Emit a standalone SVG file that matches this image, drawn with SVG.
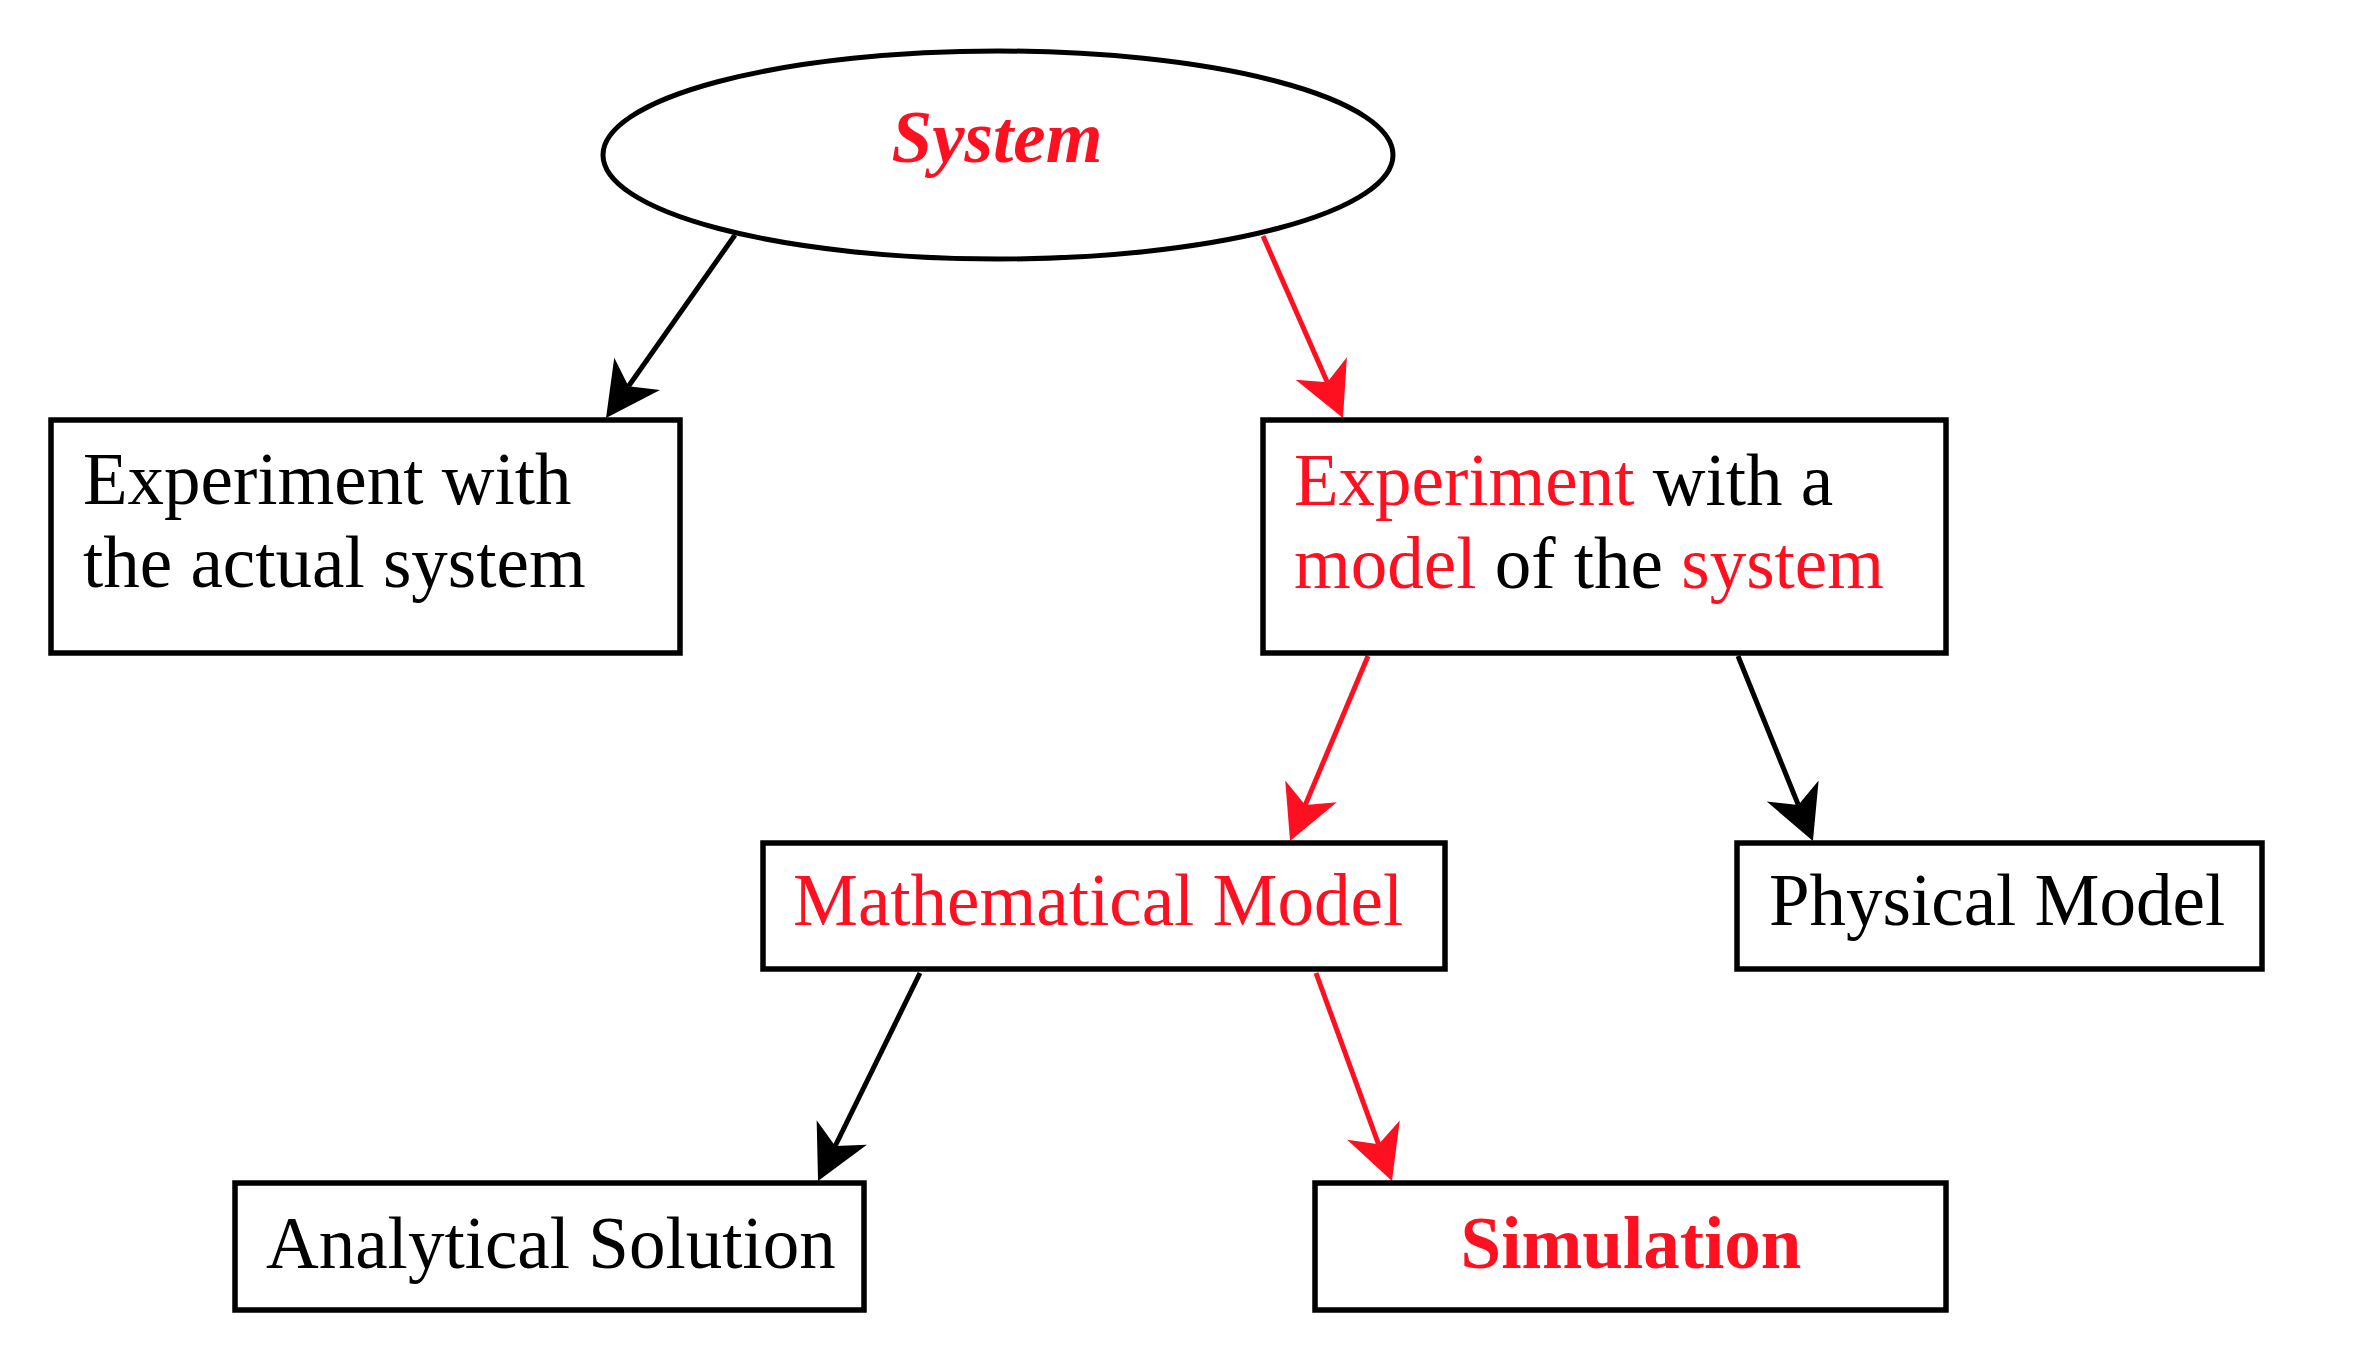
<svg xmlns="http://www.w3.org/2000/svg" width="2370" height="1368" viewBox="0 0 2370 1368">
<style>
.box{fill:#fff;stroke:#000;stroke-width:5.5}
.t{font-family:"Liberation Serif","Times New Roman",serif;font-size:73px;fill:#000}
.r{fill:#ff1020}
.ln{fill:none;stroke-width:5}
.k{stroke:#000}
.rl{stroke:#ff1020}
</style>
<defs>
<marker id="ak" markerUnits="userSpaceOnUse" markerWidth="54" markerHeight="56" refX="15" refY="28" orient="auto" overflow="visible">
<path d="M54 28 L0 0 L15 28 L0 56 Z" fill="#000"/>
</marker>
<marker id="ar" markerUnits="userSpaceOnUse" markerWidth="54" markerHeight="56" refX="15" refY="28" orient="auto" overflow="visible">
<path d="M54 28 L0 0 L15 28 L0 56 Z" fill="#ff1020"/>
</marker>
</defs>
<rect width="2370" height="1368" fill="#fff"/>
<g id="connectors">
<line class="ln k" x1="735" y1="235" x2="628.5" y2="386.2" marker-end="url(#ak)"/>
<line class="ln rl" x1="1263" y1="236" x2="1327.3" y2="382.3" marker-end="url(#ar)"/>
<line class="ln rl" x1="1368" y1="656" x2="1305.2" y2="805.1" marker-end="url(#ar)"/>
<line class="ln k" x1="1738" y1="656" x2="1798.3" y2="804.9" marker-end="url(#ak)"/>
<line class="ln k" x1="920" y1="973" x2="835.2" y2="1146" marker-end="url(#ak)"/>
<line class="ln rl" x1="1316" y1="973" x2="1378.6" y2="1144.3" marker-end="url(#ar)"/>
</g>
<g id="system">
<ellipse cx="998" cy="155" rx="395" ry="104" fill="#fff" stroke="#000" stroke-width="5"/>
<text class="t r" x="997" y="162" text-anchor="middle" font-size="75" font-weight="bold" font-style="italic">System</text>
</g>
<g id="actual">
<rect class="box" x="51" y="420" width="629" height="233"/>
<text class="t" x="83" y="504">Experiment with</text>
<text class="t" x="83" y="587">the actual system</text>
</g>
<g id="model">
<rect class="box" x="1263" y="420" width="683" height="233"/>
<text class="t" x="1294" y="505"><tspan class="r">Experiment</tspan> with a</text>
<text class="t" x="1294" y="588"><tspan class="r">model</tspan> of the <tspan class="r">system</tspan></text>
</g>
<g id="math">
<rect class="box" x="763" y="843" width="682" height="126"/>
<text class="t r" x="793" y="925">Mathematical Model</text>
</g>
<g id="physical">
<rect class="box" x="1737" y="843" width="525" height="126"/>
<text class="t" x="1769" y="925">Physical Model</text>
</g>
<g id="analytical">
<rect class="box" x="235" y="1183" width="629" height="127"/>
<text class="t" x="266" y="1268">Analytical Solution</text>
</g>
<g id="simulation">
<rect class="box" x="1315" y="1183" width="631" height="127"/>
<text class="t r" x="1631" y="1268" text-anchor="middle" font-weight="bold">Simulation</text>
</g>
</svg>
